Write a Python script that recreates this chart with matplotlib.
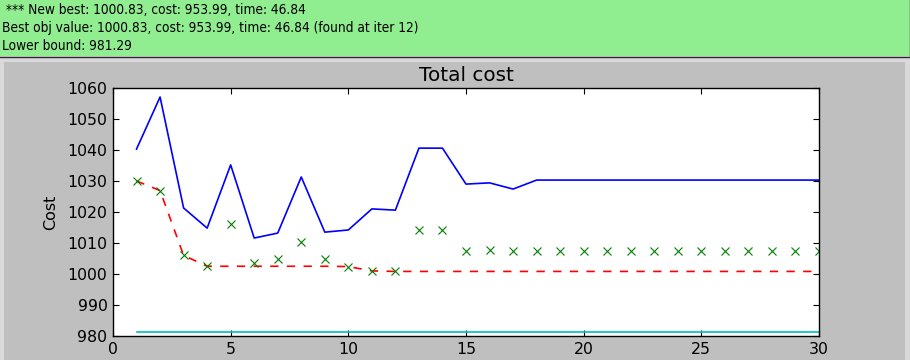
import matplotlib
matplotlib.use("Agg")
import matplotlib.pyplot as plt
from matplotlib.patches import Rectangle
from matplotlib.lines import Line2D

W, H = 910, 360

# data
iters = list(range(1, 31))
iter_cost = [1040.3, 1057.1, 1021.3, 1014.8, 1035.2, 1011.6, 1013.2, 1031.3, 1013.5, 1014.2,
             1021.0, 1020.6, 1040.6, 1040.6, 1029.0, 1029.4, 1027.4, 1030.3, 1030.3, 1030.3,
             1030.3, 1030.3, 1030.3, 1030.3, 1030.3, 1030.3, 1030.3, 1030.3, 1030.3, 1030.3]
iter_obj = [1030.0, 1026.9, 1006.0, 1002.5, 1016.1, 1003.5, 1004.7, 1010.2, 1004.7, 1002.4,
            1001.0, 1000.83, 1014.2, 1014.2, 1007.3, 1007.6, 1007.3, 1007.3, 1007.3, 1007.3,
            1007.3, 1007.3, 1007.3, 1007.3, 1007.3, 1007.3, 1007.3, 1007.3, 1007.3, 1007.3]
best_obj = [1030.0, 1026.9, 1006.0, 1002.5, 1002.5, 1002.5, 1002.5, 1002.5, 1002.5, 1002.4,
            1001.0, 1000.83, 1000.83, 1000.83, 1000.83, 1000.83, 1000.83, 1000.83, 1000.83, 1000.83,
            1000.83, 1000.83, 1000.83, 1000.83, 1000.83, 1000.83, 1000.83, 1000.83, 1000.83, 1000.83]
lower_bound = [981.29] * 30

header_lines = [
    " *** New best: 1000.83, cost: 953.99, time: 46.84",
    "Best obj value: 1000.83, cost: 953.99, time: 46.84 (found at iter 12)",
    "Lower bound: 981.29",
]


def fx(x):
    return x / W


def fy(y):
    return 1 - y / H


fig = plt.figure(figsize=(W / 100, H / 100), dpi=100, facecolor="#d9d9d9")

# status bar on top
fig.add_artist(Rectangle((0, fy(56)), 1, 56 / H, transform=fig.transFigure,
                         facecolor="#90ee90", edgecolor="none", zorder=0))
fig.add_artist(Line2D([0, 1], [fy(56.5), fy(56.5)], transform=fig.transFigure,
                      color="#2a2a2a", lw=1.0))
fig.add_artist(Line2D([fx(909.5), fx(909.5)], [fy(0), fy(57)], transform=fig.transFigure,
                      color="#2a2a2a", lw=1.0))
# canvas grey
fig.add_artist(Rectangle((fx(4), 0), fx(901), fy(62), transform=fig.transFigure,
                         facecolor="#bfbfbf", edgecolor="none", zorder=0))

for i, line in enumerate(header_lines):
    fig.text(fx(2), fy(10 + 18 * i), line, fontsize=9.8, va="center", ha="left",
             family="DejaVu Sans", fontstretch="condensed")

ax = fig.add_axes([fx(113), fy(336), fx(706), 248 / H])
ax.plot(iters, iter_cost, color="b", lw=1.2)
ax.plot(iters, best_obj, color="r", lw=1.2, ls="--", dashes=(5, 5))
ax.plot(iters, iter_obj, "x", color="g", ms=6, mew=0.8)
ax.plot(iters, lower_bound, color="c", lw=1.2)

ax.set_xlim(0, 30)
ax.set_ylim(980, 1060)
ax.set_xticks([0, 5, 10, 15, 20, 25, 30])
ax.set_yticks(range(980, 1061, 10))
ax.tick_params(direction="in", length=4, width=0.8, top=True, right=True,
               labelsize=11.3, pad=4)
ax.set_title("Total cost", fontsize=14.4, pad=5)
ax.set_ylabel("Cost", fontsize=11.5, labelpad=7)
for s in ax.spines.values():
    s.set_linewidth(1.0)

fig.savefig("out.png", dpi=100, facecolor=fig.get_facecolor())
